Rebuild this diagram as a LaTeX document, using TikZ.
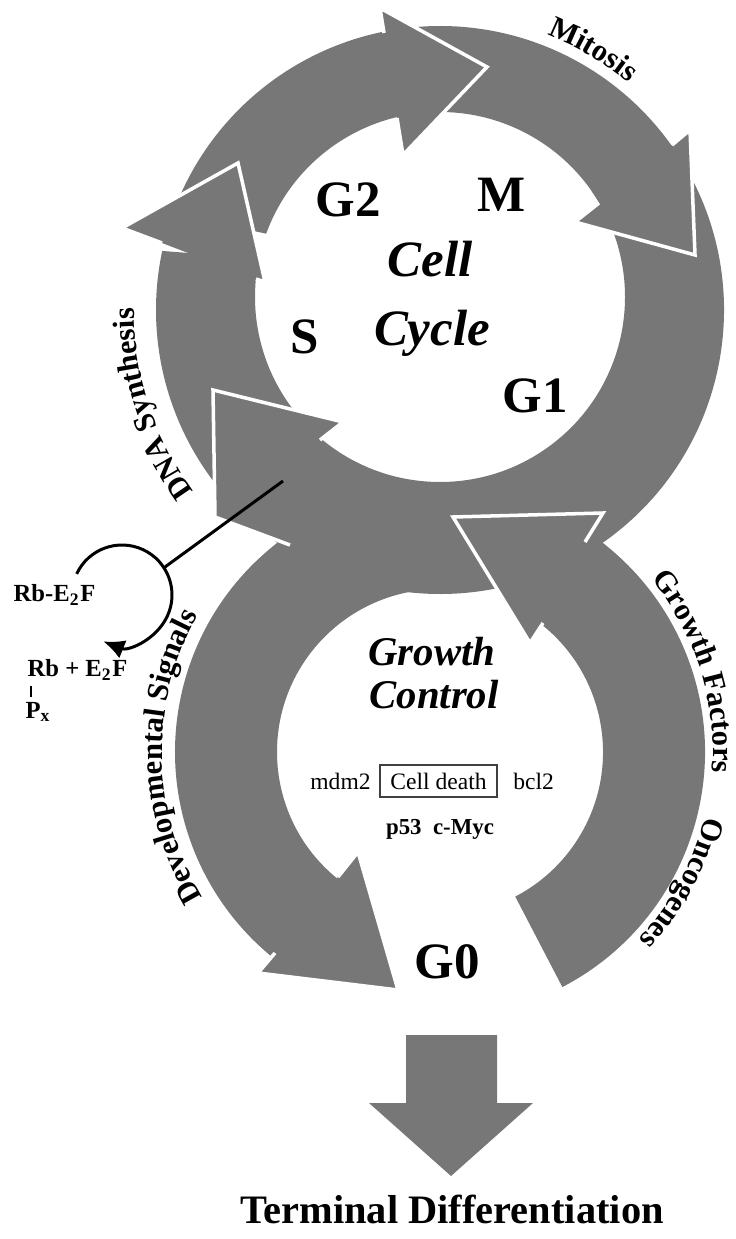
\documentclass[tikz,border=0pt]{standalone}
\usepackage{fontspec}
\setmainfont{Liberation Serif}
\usetikzlibrary{arrows.meta,positioning,calc,decorations.text}
\definecolor{ringgray}{RGB}{119,119,119}
% 輪の一部(外側の中心,外径,内側の中心,内径,始角,終角)
\newcommand{\ringpart}[6]{%
  \fill[ringgray] ($(#1)+(#5:#2)$) arc[start angle=#5,end angle=#6,radius=#2]
    -- ($(#3)+(#6:#4)$) arc[start angle=#6,end angle=#5,radius=#4] -- cycle;}
\newcommand{\arcfont}{\bfseries\fontsize{8.7}{9}\selectfont}
\tikzset{
  head/.style={fill=ringgray,draw=white,line width=1pt,line join=miter},
  phase/.style={font=\bfseries\fontsize{14.5}{15}\selectfont,inner sep=0pt},
  title/.style={font=\bfseries\itshape\fontsize{14.5}{15}\selectfont,inner sep=0pt,anchor=base},
  subtitle/.style={font=\bfseries\itshape\fontsize{11.6}{12}\selectfont,inner sep=0pt,anchor=base},
  gene/.style={font=\fontsize{6.7}{7}\selectfont,inner sep=0pt},
  rb/.style={font=\bfseries\fontsize{7}{8}\selectfont,inner sep=0pt,anchor=west},
  arclabel/.style={decorate,decoration={text along path,text align=center,text={|\arcfont|#1}}}
}
\begin{document}
\begin{tikzpicture}
  \useasboundingbox (0,0) rectangle (7.35,-12.39);
  % 輪の中心
  \coordinate (uo) at (4.40,-3.10);
  \coordinate (ui) at (4.40,-2.97);
  \coordinate (lc) at (4.40,-7.52);
  % 上の輪(細胞周期):S, G2, M, G1 の胴
  \ringpart{uo}{2.84}{ui}{1.85}{228}{168}
  \ringpart{uo}{2.84}{ui}{1.85}{160}{100}
  \ringpart{uo}{2.84}{ui}{1.85}{95}{29}
  \ringpart{uo}{2.84}{ui}{1.85}{35}{-140}
  % 下の輪(増殖制御)
  \ringpart{lc}{2.65}{lc}{1.63}{80}{232}
  \ringpart{lc}{2.65}{lc}{1.63}{-62.5}{58}
  % 矢じり(白い縁どり)
  \filldraw[head] (1.62,-2.43) -- (1.22,-2.28) -- (2.38,-1.63) -- (2.65,-2.82) -- (2.56,-2.79);
  \filldraw[head] (3.84,-0.33) -- (3.80,-0.08) -- (4.87,-0.67) -- (4.03,-1.55) -- (3.97,-1.18);
  \filldraw[head] (6.72,-1.45) -- (6.90,-1.30) -- (6.95,-2.55) -- (5.75,-2.22) -- (5.99,-2.03);
  \filldraw[head] (2.90,-5.45) -- (2.15,-5.17) -- (2.13,-3.90) -- (3.43,-4.22) -- (3.20,-4.40);
  \filldraw[head] (2.75,-9.53) -- (2.58,-9.73) -- (3.98,-9.90) -- (3.58,-8.52) -- (3.38,-8.77);
  \filldraw[head] (5.85,-5.42) -- (6.03,-5.13) -- (4.53,-5.17) -- (5.30,-6.43) -- (5.43,-6.23);
  % 終末分化へ向かう矢印
  \fill[ringgray] (4.06,-10.35) -- (4.97,-10.35) -- (4.97,-11.03) -- (5.33,-11.03)
    -- (4.51,-11.76) -- (3.69,-11.03) -- (4.06,-11.03) -- cycle;
  % 輪の外側の文字
  \path[arclabel=Mitosis] ($(uo)+(75:2.95)$) arc[start angle=75,end angle=44,radius=2.95];
  \path[arclabel=DNA Synthesis] ($(uo)+(225:3.06)$) arc[start angle=225,end angle=171,radius=3.06];
  \path[arclabel=Developmental Signals] ($(lc)+(216:2.78)$) arc[start angle=216,end angle=146,radius=2.78];
  \path[arclabel=Growth Factors] ($(lc)+(47:2.73)$) arc[start angle=47,end angle=-12,radius=2.73];
  \path[arclabel=Oncogenes] ($(lc)+(-12:2.73)$) arc[start angle=-12,end angle=-45,radius=2.73];
  % 相の名前
  \node[phase] (g2) at (3.48,-2.00) {G2};
  \node[phase] (m) at (5.02,-1.95) {M};
  \node[phase] (s) at (3.05,-3.37) {S};
  \node[phase] (g1) at (5.35,-3.96) {G1};
  \node[phase] (g0) at (4.47,-9.62) {G0};
  \node[title] (cell) at (4.30,-2.77) {Cell};
  \node[title] (cycle) at (4.32,-3.46) {Cycle};
  \node[subtitle] (growth) at (4.32,-6.65) {Growth};
  \node[subtitle] (control) at (4.34,-7.08) {Control};
  % 細胞死の枠と遺伝子
  \node[gene,draw=black!75,line width=0.4pt,minimum width=1.17cm,minimum height=0.32cm] (death) at (4.385,-7.81) {Cell death};
  \node[gene,left=0.08 of death] (mdm) {mdm2};
  \node[gene,right=0.15 of death] (bcl) {bcl2};
  \node[gene,font=\bfseries\fontsize{6.5}{7}\selectfont] (p53) at (4.40,-8.29) {p53\ \ c-Myc};
  % Rb のリン酸化
  \coordinate (rbc) at (1.22,-5.95);
  \coordinate (fork) at ($(rbc)+(33:0.5)$);
  \coordinate (sig) at (2.83,-4.81);
  \draw[line width=0.85pt,-{Latex[length=6pt,width=5.5pt]}] ($(rbc)+(155:0.5)$) arc[start angle=155,end angle=-112,radius=0.5];
  \draw[line width=0.85pt] (sig) -- (fork);
  \node[rb] (rbe) at (0.13,-5.95) {Rb-E\textsubscript{2}F};
  \node[rb] (rbfree) at (0.27,-6.70) {Rb + E\textsubscript{2}F};
  \node[rb] (px) at (0.25,-7.12) {P\textsubscript{x}};
  \draw[line width=0.7pt] (0.31,-6.86) -- (0.31,-6.97);
  % キャプション
  \node[font=\bfseries\fontsize{11.5}{12}\selectfont] (term) at (4.52,-12.09) {Terminal Differentiation};
\end{tikzpicture}
\end{document}
